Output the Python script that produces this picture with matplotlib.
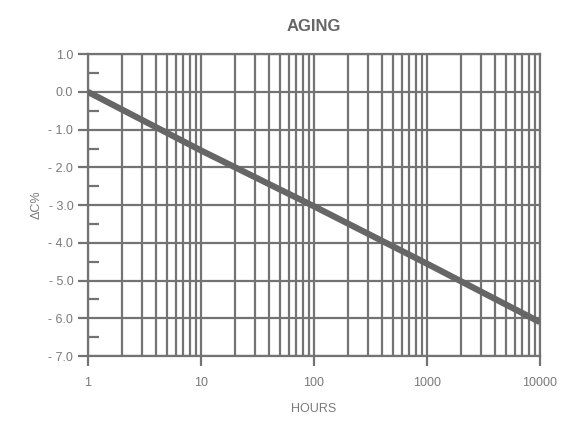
import matplotlib
matplotlib.use("Agg")
import matplotlib.pyplot as plt
import numpy as np
from matplotlib.ticker import FixedLocator, NullFormatter

hours = [1, 10, 100, 1000, 10000]
delta_c = [0.0, -1.55, -3.03, -4.55, -6.1]
y_ticks = [1, 0, -1, -2, -3, -4, -5, -6, -7]
y_labels = ["1.0", "0.0", "- 1.0", "- 2.0", "- 3.0", "- 4.0", "- 5.0", "- 6.0", "- 7.0"]
x_ticks = [1, 10, 100, 1000, 10000]
x_labels = ["1", "10", "100", "1000", "10000"]

plt.rcParams['font.family'] = ['Liberation Sans', 'DejaVu Sans']
gc = '#737373'
tc = '#7a7a7a'

fig = plt.figure(figsize=(5.67, 4.3), dpi=100)
ax = fig.add_axes([0.155, 0.172, 0.797, 0.702])

# grid
minor_x = [m * 10**d for d in range(4) for m in range(2, 10)]
for xv in minor_x + x_ticks:
    ax.axvline(xv, color=gc, lw=1.6, zorder=1)
for yv in y_ticks:
    ax.axhline(yv, color=gc, lw=1.6, zorder=1)

ax.plot(hours, delta_c, color='#666666', lw=4.5, zorder=3, solid_capstyle='butt')

ax.set_xscale('log')
ax.set_xlim(1, 10000)
ax.set_ylim(-7, 1)
ax.set_xticks(x_ticks)
ax.set_xticklabels(x_labels)
ax.xaxis.set_minor_locator(FixedLocator([]))
ax.xaxis.set_minor_formatter(NullFormatter())
ax.set_yticks(y_ticks)
ax.set_yticklabels(y_labels)
ax.yaxis.set_minor_locator(FixedLocator([0.5, -0.5, -1.5, -2.5, -3.5, -4.5, -5.5, -6.5]))

ax.tick_params(axis='both', which='major', direction='out', length=7, width=1.6,
               color=gc, labelcolor=tc, labelsize=9)
ax.tick_params(axis='y', which='minor', direction='in', length=8, width=1.6, color=gc)
ax.tick_params(axis='x', which='major', pad=8)

for s in ax.spines.values():
    s.set_color(gc)
    s.set_linewidth(1.6)

ax.set_ylabel('ΔC%', color=tc, fontsize=9, labelpad=4)
ax.set_xlabel('HOURS', color=tc, fontsize=9, labelpad=10)
ax.set_title('AGING', color='#666666', fontsize=12, fontweight='bold', pad=17)

fig.savefig('out.png', dpi=100)
